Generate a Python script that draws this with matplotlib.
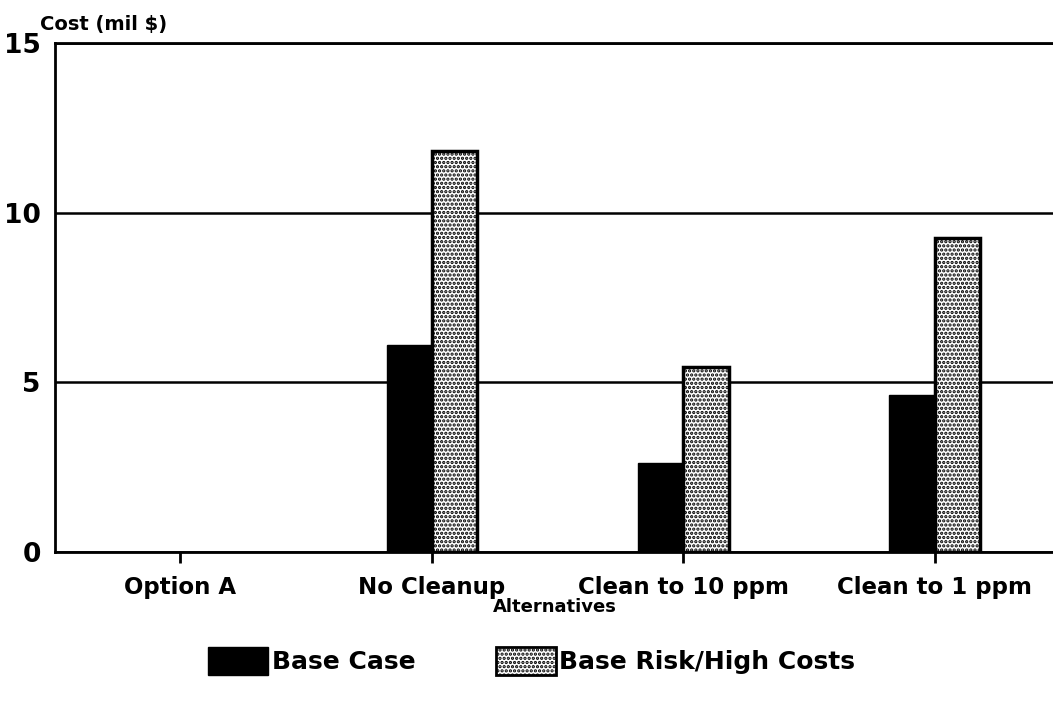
import numpy as np
import matplotlib
matplotlib.use('Agg')
import matplotlib.pyplot as plt

categories = ['Option A', 'No Cleanup', 'Clean to 10 ppm', 'Clean to 1 ppm']
base_case = [0, 6.1, 2.62, 4.63]
high_costs = [0, 11.82, 5.45, 9.25]
series_names = ['Base Case', 'Base Risk/High Costs']

plt.rcParams['font.family'] = ['DejaVu Sans']
plt.rcParams['hatch.linewidth'] = 1.6

fig = plt.figure(figsize=(10.53, 7.07), dpi=100)
ax = fig.add_axes([0.052, 0.219, 0.955, 0.72])

x = np.arange(len(categories))
w = 0.18
ax.bar(x - w / 2, base_case, w, color='black', edgecolor='black',
       linewidth=[0 if v == 0 else 1 for v in base_case],
       label=series_names[0])
ax.bar(x + w / 2, high_costs, w, color='white', edgecolor='black',
       linewidth=[0 if v == 0 else 2.5 for v in high_costs],
       hatch='....', label=series_names[1])

ax.set_xlim(-0.5, 3.5)
ax.set_ylim(0, 15)
ax.set_yticks([0, 5, 10, 15])
ax.set_xticks(x)
ax.set_xticklabels(categories, fontsize=16.5, fontweight='bold')
ax.tick_params(axis='y', length=0, labelsize=19, pad=10)
ax.tick_params(axis='x', length=8, width=2, pad=9)
for lab in ax.get_yticklabels():
    lab.set_fontweight('bold')

ax.yaxis.grid(True, color='black', linewidth=1.8)
ax.set_axisbelow(True)
for s in ['left', 'bottom', 'top']:
    ax.spines[s].set_linewidth(2)
ax.spines['right'].set_visible(False)

fig.text(0.527, 0.141, 'Alternatives', fontsize=13, fontweight='bold',
         ha='center', va='center')
fig.text(0.038, 0.952, 'Cost (mil $)', fontsize=14, fontweight='bold',
         ha='left', va='bottom')

leg = fig.legend(loc='center', bbox_to_anchor=(0.505, 0.065), ncol=2,
                 frameon=False, prop={'weight': 'bold', 'size': 18},
                 handlelength=2.4, handleheight=1.3, columnspacing=3.2,
                 handletextpad=0.15)
leg.legend_handles[0].set_linewidth(1)
leg.legend_handles[1].set_linewidth(2)

fig.savefig('out.png', dpi=100)
